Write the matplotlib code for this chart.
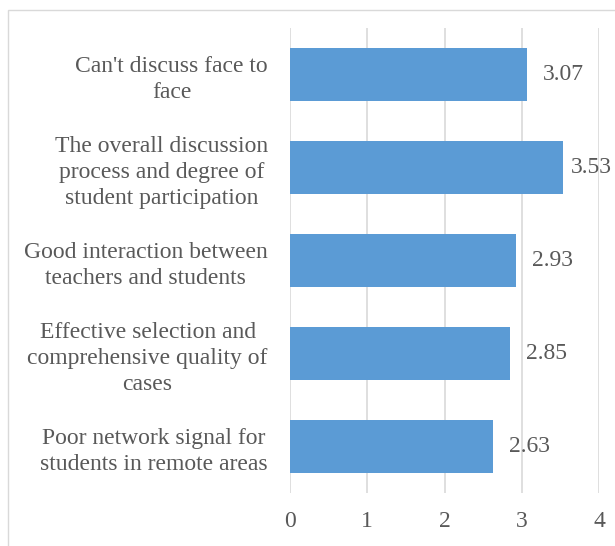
import matplotlib.pyplot as plt
from matplotlib.patches import Rectangle

plt.rcParams['font.family'] = ['Liberation Serif', 'DejaVu Serif']

# bottom to top, as drawn
categories = [
    "Poor network signal for\nstudents in remote areas",
    "Effective selection and\ncomprehensive quality of\ncases",
    "Good interaction between\nteachers and students",
    "The overall discussion\nprocess and degree of\nstudent participation",
    "Can't discuss face to\nface",
]
scores = [2.63, 2.85, 2.93, 3.53, 3.07]
x_ticks = [0, 1, 2, 3, 4]

BAR_COLOR = '#5b9bd5'
GRID_COLOR = '#d9d9d9'
TEXT_COLOR = '#595959'
FS = 17

fig = plt.figure(figsize=(6.15, 5.46), dpi=100)
ax = fig.add_axes([290 / 615, 1 - 493 / 546, 309 / 615, 465 / 546])

# light border around the chart area (runs off the right/bottom edge)
fig.patches.append(Rectangle((8 / 615, -0.05), 1.1, 1 - 9.5 / 546 + 0.05,
                             transform=fig.transFigure, fill=False,
                             edgecolor=GRID_COLOR, linewidth=1.0))

y = list(range(len(categories)))
bars = ax.barh(y, scores, height=0.56, color=BAR_COLOR, zorder=3)

# labels sit just right of the bar, but are kept inside the chart like excel does
for b, v in zip(bars, scores):
    lx = min(b.get_width() + 0.2, 3.63)
    ax.text(lx, b.get_y() + b.get_height() / 2, f'{v:.2f}',
            va='center', ha='left', fontsize=FS, color=TEXT_COLOR, clip_on=False)

ax.set_xlim(0, 4)
ax.set_ylim(-0.5, len(categories) - 0.5)
ax.set_xticks(x_ticks)
ax.set_xticklabels([str(t) for t in x_ticks], fontsize=FS, color=TEXT_COLOR)
ax.set_yticks(y)
ax.set_yticklabels(categories, fontsize=FS, color=TEXT_COLOR,
                   multialignment='center', linespacing=1.32)

ax.grid(axis='x', color=GRID_COLOR, linewidth=1.2, zorder=0)
for s in ax.spines.values():
    s.set_visible(False)
ax.tick_params(axis='both', length=0)
ax.tick_params(axis='y', pad=16)
ax.tick_params(axis='x', pad=13)

plt.savefig('out.png', dpi=100)
